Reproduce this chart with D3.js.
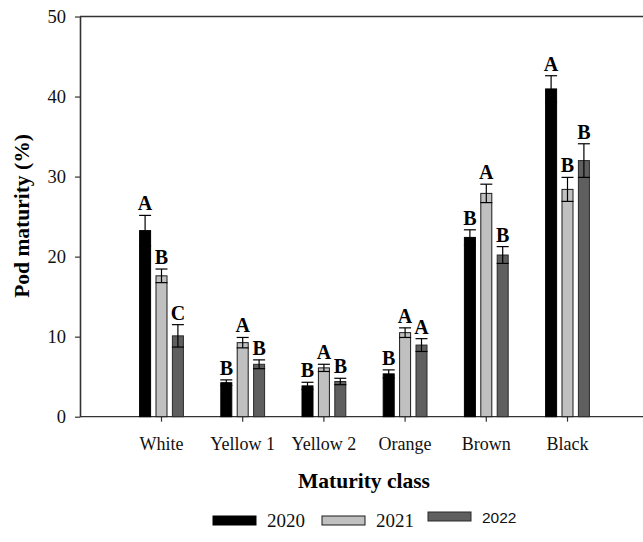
<!DOCTYPE html>
<html>
<head>
<meta charset="utf-8">
<script src="https://cdn.jsdelivr.net/npm/d3@7"></script>
<style>
  html, body { margin: 0; padding: 0; background: #fff; }
  svg { display: block; }
</style>
</head>
<body>
<svg id="chart" width="643" height="542"></svg>
<script>
// Pod maturity by maturity class, three seasons (mean ± SE, with letter groups)
const categories = ["White", "Yellow 1", "Yellow 2", "Orange", "Brown", "Black"];
const years = ["2020", "2021", "2022"];
const means2020 = [23.25, 4.25, 3.85, 5.35, 22.4, 40.95];
const means2021 = [17.6, 9.25, 6.1, 10.5, 27.9, 28.4];
const means2022 = [10.1, 6.55, 4.4, 8.95, 20.2, 32.0];
const se2020 = [1.9, 0.35, 0.45, 0.5, 0.95, 1.65];
const se2021 = [0.85, 0.65, 0.45, 0.6, 1.15, 1.5];
const se2022 = [1.4, 0.55, 0.4, 0.8, 1.05, 2.1];
const letters2020 = ["A", "B", "B", "B", "B", "A"];
const letters2021 = ["B", "A", "A", "A", "A", "B"];
const letters2022 = ["C", "B", "B", "A", "B", "B"];
const yTicks = [0, 10, 20, 30, 40, 50];

const seriesMeans = [means2020, means2021, means2022];
const seriesSE = [se2020, se2021, se2022];
const seriesLetters = [letters2020, letters2021, letters2022];
const fills = ["#000000", "#c0c0c0", "#5f5f5f"];
const strokes = ["#000000", "#1a1a1a", "#2a2a2a"];

const serif = "'Liberation Serif', 'Times New Roman', serif";
const sans = "'Liberation Sans', Arial, sans-serif";

const rows = [];
categories.forEach((c, i) => {
  years.forEach((yr, j) => {
    rows.push({ cat: c, year: yr, j, mean: seriesMeans[j][i], se: seriesSE[j][i], letter: seriesLetters[j][i] });
  });
});

const svg = d3.select("#chart");
const plotLeft = 80, plotRight = 643, plotTop = 16.5, plotBottom = 416.7;

const y = d3.scaleLinear().domain([0, 50]).range([plotBottom, plotTop]);
const x = d3.scaleBand().domain(categories).range([120.9, 608.1]).paddingInner(0).paddingOuter(0);
const xs = d3.scalePoint().domain(years).range([-16.4, 16.4]);
const barW = 11;
const cx = d => x(d.cat) + x.bandwidth() / 2 + xs(d.year);

const axisColor = "#333";

// frame lines: top border and baseline
svg.append("line").attr("x1", plotLeft).attr("x2", plotRight).attr("y1", y(50)).attr("y2", y(50))
  .attr("stroke", axisColor).attr("stroke-width", 1.3);
svg.append("line").attr("x1", plotLeft).attr("x2", plotRight).attr("y1", y(0)).attr("y2", y(0))
  .attr("stroke", axisColor).attr("stroke-width", 1.3);

// y axis
const gy = svg.append("g").attr("transform", `translate(${plotLeft},0)`)
  .call(d3.axisLeft(y).tickValues(yTicks).tickSize(5).tickSizeOuter(0).tickPadding(9));
gy.select(".domain").attr("stroke", axisColor).attr("stroke-width", 1.6);
gy.selectAll(".tick line").attr("stroke", axisColor).attr("stroke-width", 1.2);
gy.selectAll(".tick text").attr("font-family", serif).attr("font-size", 18.5).attr("fill", "#111");

// x axis
const gx = svg.append("g").attr("transform", `translate(0,${plotBottom})`)
  .call(d3.axisBottom(x).tickSize(5).tickSizeOuter(0).tickPadding(15.5));
gx.select(".domain").remove();
gx.selectAll(".tick line").attr("stroke", axisColor).attr("stroke-width", 1.2);
gx.selectAll(".tick text").attr("font-family", serif).attr("font-size", 18).attr("fill", "#111");

// bars
svg.append("g").selectAll("rect").data(rows).join("rect")
  .attr("x", d => cx(d) - barW / 2)
  .attr("y", d => y(d.mean))
  .attr("width", barW)
  .attr("height", d => y(0) - y(d.mean))
  .attr("fill", d => fills[d.j])
  .attr("stroke", d => strokes[d.j])
  .attr("stroke-width", 1);

// error bars
const eb = svg.append("g").attr("stroke", "#000").attr("stroke-width", 1.2);
eb.selectAll("line.v").data(rows).join("line").attr("class", "v")
  .attr("x1", cx).attr("x2", cx)
  .attr("y1", d => y(d.mean - d.se)).attr("y2", d => y(d.mean + d.se));
eb.selectAll("line.capT").data(rows).join("line").attr("class", "capT")
  .attr("x1", d => cx(d) - 6).attr("x2", d => cx(d) + 6)
  .attr("y1", d => y(d.mean + d.se)).attr("y2", d => y(d.mean + d.se));
eb.selectAll("line.capB").data(rows).join("line").attr("class", "capB")
  .attr("x1", d => cx(d) - 6).attr("x2", d => cx(d) + 6)
  .attr("y1", d => y(d.mean - d.se)).attr("y2", d => y(d.mean - d.se));

// significance letters
svg.append("g").selectAll("text").data(rows).join("text")
  .attr("x", cx)
  .attr("y", d => y(d.mean + d.se) - 5)
  .attr("text-anchor", "middle")
  .attr("font-family", serif).attr("font-weight", "bold").attr("font-size", 20)
  .attr("fill", "#000")
  .text(d => d.letter);

// axis titles
svg.append("text")
  .attr("transform", `translate(29,216) rotate(-90)`)
  .attr("text-anchor", "middle")
  .attr("font-family", serif).attr("font-weight", "bold").attr("font-size", 21.5)
  .attr("fill", "#000")
  .text("Pod maturity (%)");
svg.append("text")
  .attr("x", 364).attr("y", 488)
  .attr("text-anchor", "middle")
  .attr("font-family", serif).attr("font-weight", "bold").attr("font-size", 21.5)
  .attr("fill", "#000")
  .text("Maturity class");

// legend
const legendItems = [
  { year: years[0], x: 213, dy: 0, font: serif, size: 19 },
  { year: years[1], x: 322, dy: 0, font: serif, size: 19 },
  { year: years[2], x: 428, dy: -4, font: sans, size: 15.5 }
];
const lg = svg.append("g");
legendItems.forEach((it, j) => {
  lg.append("rect")
    .attr("x", it.x).attr("y", 516 + it.dy).attr("width", 43).attr("height", 9)
    .attr("fill", fills[j]).attr("stroke", strokes[j]).attr("stroke-width", 1);
  lg.append("text")
    .attr("x", it.x + 54).attr("y", 527 + it.dy)
    .attr("font-family", it.font).attr("font-size", it.size).attr("fill", "#111")
    .text(it.year);
});
</script>
</body>
</html>
